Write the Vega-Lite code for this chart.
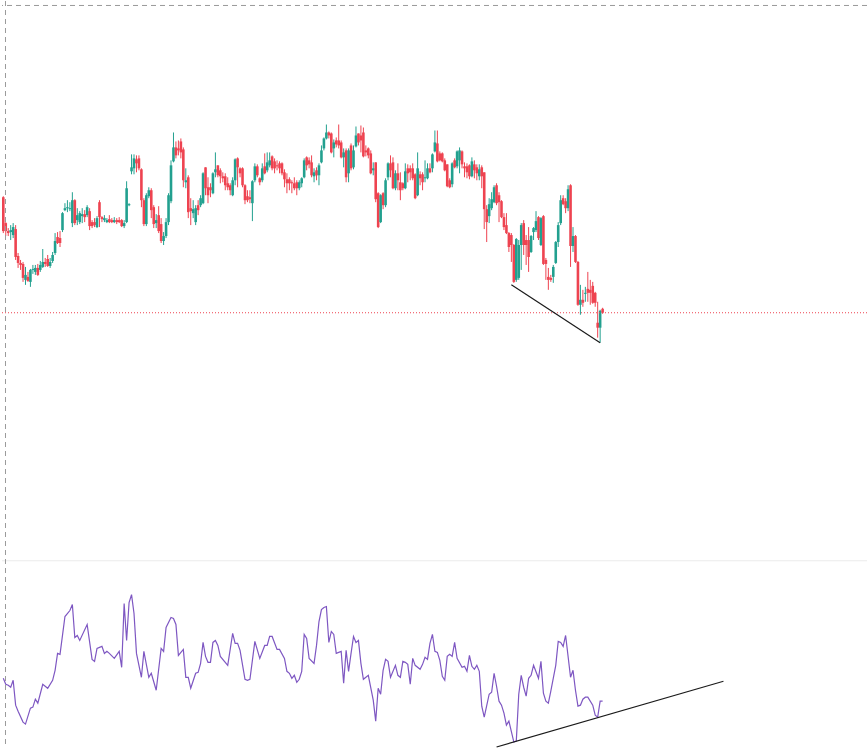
{
"$schema": "https://vega.github.io/schema/vega-lite/v6.json",
"width": 868, "height": 750,
"autosize": {"type": "fit", "contains": "padding"},
"padding": 0,
"background": "white",
"config": {"view": {"stroke": null}},
"datasets": {
"candles": [
{"t":0,"o":403,"c":369,"h":404,"l":367},{"t":1,"o":377,"c":369,"h":378,"l":364},{"t":2,"o":369,"c":367,"h":372,"l":364},{"t":3,"o":368,"c":370,"h":375,"l":360},{"t":4,"o":365,"c":373,"h":377,"l":362},{"t":5,"o":371,"c":343,"h":375,"l":340},{"t":6,"o":344,"c":337,"h":347,"l":332},{"t":7,"o":337,"c":335,"h":340,"l":330},{"t":8,"o":336,"c":322,"h":338,"l":318},{"t":9,"o":320,"c":325,"h":333,"l":315},
{"t":10,"o":323,"c":319,"h":328,"l":318},{"t":11,"o":318,"c":330,"h":331,"l":313},{"t":12,"o":330,"c":331,"h":335,"l":326},{"t":13,"o":328,"c":332,"h":335,"l":325},{"t":14,"o":332,"c":325,"h":336,"l":324},{"t":15,"o":330,"c":335,"h":339,"l":328},{"t":16,"o":333,"c":338,"h":351,"l":332},{"t":17,"o":338,"c":336,"h":342,"l":333},{"t":18,"o":341,"c":334,"h":345,"l":333},{"t":19,"o":334,"c":338,"h":342,"l":332},
{"t":20,"o":339,"c":345,"h":348,"l":337},{"t":21,"o":347,"c":359,"h":367,"l":345},{"t":22,"o":363,"c":357,"h":368,"l":356},{"t":23,"o":362,"c":357,"h":369,"l":353},{"t":24,"o":370,"c":387,"h":388,"l":368},{"t":25,"o":390,"c":392,"h":397,"l":389},{"t":26,"o":392,"c":393,"h":400,"l":388},{"t":27,"o":391,"c":392,"h":398,"l":389},{"t":28,"o":377,"c":400,"h":408,"l":373},{"t":29,"o":400,"c":377,"h":401,"l":375},
{"t":30,"o":380,"c":385,"h":392,"l":375},{"t":31,"o":378,"c":387,"h":389,"l":376},{"t":32,"o":384,"c":386,"h":392,"l":377},{"t":33,"o":386,"c":383,"h":390,"l":378},{"t":34,"o":385,"c":393,"h":395,"l":383},{"t":35,"o":389,"c":374,"h":392,"l":370},{"t":36,"o":378,"c":374,"h":380,"l":372},{"t":37,"o":378,"c":375,"h":382,"l":373},{"t":38,"o":373,"c":382,"h":384,"l":372},{"t":39,"o":398,"c":383,"h":400,"l":373},
{"t":40,"o":383,"c":381,"h":384,"l":378},{"t":41,"o":380,"c":382,"h":385,"l":378},{"t":42,"o":378,"c":380,"h":382,"l":377},{"t":43,"o":381,"c":378,"h":385,"l":377},{"t":44,"o":380,"c":378,"h":382,"l":377},{"t":45,"o":378,"c":380,"h":383,"l":377},{"t":46,"o":380,"c":378,"h":382,"l":376},{"t":47,"o":380,"c":378,"h":383,"l":377},{"t":48,"o":380,"c":374,"h":381,"l":373},{"t":49,"o":374,"c":377,"h":380,"l":372},
{"t":50,"o":378,"c":412,"h":419,"l":377},{"t":51,"o":395,"c":396,"h":397,"l":394},{"t":52,"o":429,"c":433,"h":446,"l":426},{"t":53,"o":432,"c":442,"h":446,"l":426},{"t":54,"o":441,"c":437,"h":445,"l":428},{"t":55,"o":442,"c":432,"h":445,"l":430},{"t":56,"o":431,"c":400,"h":432,"l":393},{"t":57,"o":400,"c":376,"h":402,"l":374},{"t":58,"o":376,"c":405,"h":407,"l":374},{"t":59,"o":404,"c":410,"h":413,"l":402},
{"t":60,"o":410,"c":390,"h":412,"l":382},{"t":61,"o":393,"c":376,"h":395,"l":372},{"t":62,"o":377,"c":380,"h":386,"l":372},{"t":63,"o":385,"c":369,"h":394,"l":367},{"t":64,"o":376,"c":359,"h":382,"l":357},{"t":65,"o":359,"c":364,"h":368,"l":355},{"t":66,"o":364,"c":378,"h":382,"l":362},{"t":67,"o":378,"c":405,"h":407,"l":375},{"t":68,"o":399,"c":435,"h":440,"l":397},{"t":69,"o":439,"c":453,"h":468,"l":438},
{"t":70,"o":453,"c":445,"h":459,"l":442},{"t":71,"o":452,"c":450,"h":460,"l":445},{"t":72,"o":459,"c":448,"h":462,"l":442},{"t":73,"o":451,"c":420,"h":453,"l":413},{"t":74,"o":418,"c":420,"h":432,"l":412},{"t":75,"o":423,"c":388,"h":425,"l":382},{"t":76,"o":392,"c":389,"h":402,"l":375},{"t":77,"o":387,"c":391,"h":400,"l":382},{"t":78,"o":378,"c":392,"h":395,"l":375},{"t":79,"o":395,"c":390,"h":400,"l":385},
{"t":80,"o":395,"c":402,"h":405,"l":393},{"t":81,"o":397,"c":427,"h":428,"l":396},{"t":82,"o":433,"c":412,"h":433,"l":405},{"t":83,"o":413,"c":405,"h":423,"l":397},{"t":84,"o":413,"c":410,"h":417,"l":403},{"t":85,"o":407,"c":427,"h":428,"l":406},{"t":86,"o":428,"c":431,"h":448,"l":423},{"t":87,"o":435,"c":425,"h":435,"l":423},{"t":88,"o":430,"c":424,"h":432,"l":417},{"t":89,"o":424,"c":422,"h":428,"l":418},
{"t":90,"o":424,"c":415,"h":427,"l":410},{"t":91,"o":417,"c":413,"h":423,"l":410},{"t":92,"o":415,"c":410,"h":417,"l":405},{"t":93,"o":405,"c":420,"h":423,"l":404},{"t":94,"o":420,"c":441,"h":442,"l":415},{"t":95,"o":442,"c":433,"h":443,"l":413},{"t":96,"o":432,"c":427,"h":433,"l":423},{"t":97,"o":432,"c":415,"h":433,"l":413},{"t":98,"o":415,"c":400,"h":416,"l":396},{"t":99,"o":404,"c":400,"h":410,"l":398},
{"t":100,"o":403,"c":401,"h":410,"l":397},{"t":101,"o":397,"c":419,"h":420,"l":379},{"t":102,"o":420,"c":434,"h":437,"l":418},{"t":103,"o":434,"c":425,"h":436,"l":423},{"t":104,"o":422,"c":418,"h":423,"l":415},{"t":105,"o":420,"c":432,"h":437,"l":418},{"t":106,"o":434,"c":427,"h":447,"l":426},{"t":107,"o":430,"c":438,"h":448,"l":428},{"t":108,"o":435,"c":440,"h":448,"l":433},{"t":109,"o":444,"c":432,"h":445,"l":430},
{"t":110,"o":439,"c":432,"h":442,"l":427},{"t":111,"o":435,"c":434,"h":440,"l":430},{"t":112,"o":437,"c":432,"h":439,"l":427},{"t":113,"o":437,"c":427,"h":438,"l":425},{"t":114,"o":428,"c":421,"h":431,"l":413},{"t":115,"o":421,"c":417,"h":427,"l":407},{"t":116,"o":421,"c":417,"h":423,"l":410},{"t":117,"o":418,"c":417,"h":420,"l":407},{"t":118,"o":417,"c":412,"h":423,"l":410},{"t":119,"o":418,"c":412,"h":420,"l":405},
{"t":120,"o":412,"c":418,"h":420,"l":410},{"t":121,"o":417,"c":422,"h":423,"l":413},{"t":122,"o":423,"c":440,"h":442,"l":422},{"t":123,"o":443,"c":435,"h":444,"l":430},{"t":124,"o":440,"c":436,"h":443,"l":432},{"t":125,"o":438,"c":425,"h":445,"l":423},{"t":126,"o":424,"c":428,"h":432,"l":418},{"t":127,"o":430,"c":425,"h":433,"l":420},{"t":128,"o":425,"c":435,"h":437,"l":415},{"t":129,"o":438,"c":450,"h":455,"l":437},
{"t":130,"o":452,"c":462,"h":463,"l":450},{"t":131,"o":462,"c":468,"h":476,"l":461},{"t":132,"o":468,"c":465,"h":469,"l":462},{"t":133,"o":467,"c":448,"h":468,"l":447},{"t":134,"o":452,"c":458,"h":461,"l":443},{"t":135,"o":460,"c":456,"h":463,"l":453},{"t":136,"o":460,"c":455,"h":476,"l":452},{"t":137,"o":458,"c":443,"h":460,"l":442},{"t":138,"o":443,"c":448,"h":452,"l":433},{"t":139,"o":450,"c":423,"h":452,"l":418},
{"t":140,"o":427,"c":450,"h":452,"l":418},{"t":141,"o":455,"c":432,"h":457,"l":430},{"t":142,"o":433,"c":450,"h":455,"l":431},{"t":143,"o":454,"c":465,"h":474,"l":453},{"t":144,"o":467,"c":458,"h":467,"l":455},{"t":145,"o":465,"c":460,"h":475,"l":448},{"t":146,"o":468,"c":444,"h":473,"l":443},{"t":147,"o":450,"c":448,"h":455,"l":444},{"t":148,"o":452,"c":445,"h":453,"l":442},{"t":149,"o":447,"c":427,"h":450,"l":426},
{"t":150,"o":430,"c":432,"h":438,"l":425},{"t":151,"o":438,"c":401,"h":438,"l":398},{"t":152,"o":407,"c":373,"h":408,"l":372},{"t":153,"o":378,"c":405,"h":406,"l":377},{"t":154,"o":407,"c":395,"h":408,"l":391},{"t":155,"o":395,"c":420,"h":422,"l":393},{"t":156,"o":423,"c":437,"h":438,"l":420},{"t":157,"o":437,"c":430,"h":445,"l":423},{"t":158,"o":438,"c":412,"h":443,"l":411},{"t":159,"o":412,"c":427,"h":430,"l":410},
{"t":160,"o":427,"c":420,"h":437,"l":410},{"t":161,"o":418,"c":410,"h":428,"l":400},{"t":162,"o":417,"c":412,"h":418,"l":410},{"t":163,"o":412,"c":429,"h":437,"l":411},{"t":164,"o":432,"c":427,"h":436,"l":418},{"t":165,"o":432,"c":428,"h":435,"l":420},{"t":166,"o":432,"c":422,"h":437,"l":420},{"t":167,"o":426,"c":402,"h":427,"l":401},{"t":168,"o":405,"c":432,"h":448,"l":404},{"t":169,"o":426,"c":422,"h":429,"l":415},
{"t":170,"o":426,"c":418,"h":428,"l":410},{"t":171,"o":422,"c":423,"h":440,"l":418},{"t":172,"o":422,"c":432,"h":437,"l":421},{"t":173,"o":432,"c":428,"h":437,"l":427},{"t":174,"o":432,"c":446,"h":447,"l":428},{"t":175,"o":449,"c":458,"h":470,"l":448},{"t":176,"o":457,"c":439,"h":470,"l":438},{"t":177,"o":447,"c":440,"h":449,"l":439},{"t":178,"o":447,"c":439,"h":448,"l":438},{"t":179,"o":440,"c":430,"h":442,"l":429},
{"t":180,"o":436,"c":414,"h":436,"l":413},{"t":181,"o":420,"c":413,"h":422,"l":412},{"t":182,"o":416,"c":437,"h":438,"l":413},{"t":183,"o":440,"c":433,"h":442,"l":432},{"t":184,"o":434,"c":449,"h":450,"l":432},{"t":185,"o":440,"c":450,"h":453,"l":427},{"t":186,"o":449,"c":436,"h":450,"l":432},{"t":187,"o":434,"c":432,"h":438,"l":423},{"t":188,"o":434,"c":428,"h":437,"l":422},{"t":189,"o":435,"c":424,"h":436,"l":421},
{"t":190,"o":424,"c":439,"h":443,"l":423},{"t":191,"o":436,"c":430,"h":440,"l":422},{"t":192,"o":433,"c":427,"h":436,"l":420},{"t":193,"o":424,"c":431,"h":436,"l":420},{"t":194,"o":433,"c":424,"h":435,"l":412},{"t":195,"o":428,"c":391,"h":428,"l":371},{"t":196,"o":391,"c":378,"h":395,"l":358},{"t":197,"o":384,"c":396,"h":402,"l":377},{"t":198,"o":392,"c":401,"h":408,"l":390},{"t":199,"o":398,"c":413,"h":415,"l":397},
{"t":200,"o":415,"c":397,"h":417,"l":395},{"t":201,"o":405,"c":398,"h":408,"l":378},{"t":202,"o":399,"c":383,"h":400,"l":382},{"t":203,"o":383,"c":373,"h":387,"l":370},{"t":204,"o":375,"c":367,"h":387,"l":366},{"t":205,"o":367,"c":353,"h":368,"l":348},{"t":206,"o":365,"c":355,"h":367,"l":338},{"t":207,"o":355,"c":318,"h":356,"l":317},{"t":208,"o":320,"c":361,"h":362,"l":318},{"t":209,"o":322,"c":355,"h":360,"l":320},
{"t":210,"o":355,"c":375,"h":377,"l":330},{"t":211,"o":377,"c":355,"h":380,"l":345},{"t":212,"o":360,"c":355,"h":365,"l":335},{"t":213,"o":360,"c":343,"h":373,"l":328},{"t":214,"o":348,"c":364,"h":365,"l":347},{"t":215,"o":368,"c":372,"h":373,"l":360},{"t":216,"o":370,"c":379,"h":389,"l":368},{"t":217,"o":383,"c":362,"h":384,"l":360},{"t":218,"o":355,"c":382,"h":383,"l":354},{"t":219,"o":384,"c":336,"h":385,"l":335},
{"t":220,"o":340,"c":336,"h":342,"l":320},{"t":221,"o":323,"c":320,"h":332,"l":310},{"t":222,"o":322,"c":320,"h":325,"l":318},{"t":223,"o":323,"c":333,"h":335,"l":317},{"t":224,"o":337,"c":358,"h":359,"l":336},{"t":225,"o":358,"c":375,"h":378,"l":353},{"t":226,"o":377,"c":400,"h":405,"l":375},{"t":227,"o":402,"c":396,"h":405,"l":395},{"t":228,"o":399,"c":392,"h":402,"l":387},{"t":229,"o":392,"c":411,"h":415,"l":389},
{"t":230,"o":415,"c":354,"h":416,"l":333},{"t":231,"o":354,"c":364,"h":373,"l":348},{"t":232,"o":364,"c":338,"h":365,"l":337},{"t":233,"o":338,"c":295,"h":339,"l":294},{"t":234,"o":295,"c":300,"h":315,"l":285},{"t":235,"o":300,"c":297,"h":310,"l":293},{"t":236,"o":306,"c":307,"h":313,"l":298},{"t":237,"o":311,"c":307,"h":328,"l":298},{"t":238,"o":310,"c":307,"h":320,"l":295},{"t":239,"o":314,"c":297,"h":318,"l":296},
{"t":240,"o":307,"c":297,"h":308,"l":293},{"t":241,"o":277,"c":272,"h":298,"l":262},{"t":242,"o":272,"c":289,"h":290,"l":257},{"t":243,"o":291,"c":287,"h":292,"l":286}
],
"rsi": [
{"t":0,"v":48},{"t":1,"v":45.6},{"t":2,"v":45.2},{"t":3,"v":44.4},{"t":4,"v":47.2},{"t":5,"v":37.2},{"t":6,"v":34.8},{"t":8,"v":30.4},{"t":9,"v":29.6},{"t":11,"v":36},{"t":12,"v":36.4},{"t":13,"v":39.6},{"t":14,"v":38},{"t":16,"v":45.6},{"t":18,"v":44},{"t":20,"v":47.2},{"t":21,"v":51.2},{"t":22,"v":58},{"t":23,"v":57.6},{"t":25,"v":72.8},{"t":27,"v":75.2},{"t":28,"v":77.6},{"t":29,"v":64.4},{"t":30,"v":65.2},{"t":31,"v":63.2},{"t":34,"v":69.6},{"t":36,"v":55.6},{"t":37,"v":54.8},{"t":38,"v":60},{"t":40,"v":60.8},{"t":41,"v":58},{"t":42,"v":58.8},{"t":43,"v":58},{"t":45,"v":56},{"t":47,"v":58.8},{"t":48,"v":52.4},{"t":49,"v":78},{"t":50,"v":63.2},{"t":51,"v":78.4},{"t":52,"v":81.6},{"t":53,"v":74},{"t":54,"v":58},{"t":56,"v":48.4},{"t":57,"v":58.8},{"t":59,"v":48.4},{"t":60,"v":50},{"t":62,"v":43.2},{"t":64,"v":60},{"t":65,"v":58.8},{"t":66,"v":68.4},{"t":68,"v":72.4},{"t":69,"v":72},{"t":70,"v":69.6},{"t":71,"v":57.2},{"t":73,"v":59.6},{"t":74,"v":48.4},{"t":75,"v":48.4},{"t":76,"v":44},{"t":78,"v":50},{"t":79,"v":50.4},{"t":80,"v":54},{"t":81,"v":62.4},{"t":82,"v":56.8},{"t":83,"v":54.4},{"t":84,"v":54.4},{"t":85,"v":62.4},{"t":86,"v":63.2},{"t":87,"v":61.2},{"t":88,"v":56.8},{"t":91,"v":53.2},{"t":93,"v":66},{"t":94,"v":62},{"t":95,"v":62},{"t":96,"v":59.2},{"t":98,"v":47.6},{"t":99,"v":47.2},{"t":100,"v":47.6},{"t":102,"v":62.8},{"t":104,"v":56},{"t":106,"v":61.2},{"t":107,"v":61.2},{"t":108,"v":64.8},{"t":109,"v":64.8},{"t":111,"v":59.6},{"t":112,"v":59.6},{"t":114,"v":56},{"t":115,"v":50.8},{"t":116,"v":50},{"t":117,"v":48},{"t":118,"v":49.2},{"t":119,"v":46.4},{"t":120,"v":47.6},{"t":121,"v":50.8},
{"t":122,"v":65.6},{"t":123,"v":64},{"t":124,"v":56},{"t":126,"v":54},{"t":127,"v":61.2},{"t":128,"v":70.8},{"t":129,"v":75.6},{"t":130,"v":76.4},{"t":131,"v":76.8},{"t":132,"v":62.4},{"t":133,"v":66.8},{"t":134,"v":65.6},{"t":135,"v":58},{"t":137,"v":58.8},{"t":138,"v":46},{"t":139,"v":59.2},{"t":140,"v":50.8},{"t":141,"v":58},{"t":142,"v":64.8},{"t":143,"v":62.4},{"t":144,"v":63.2},{"t":145,"v":54},{"t":146,"v":47.6},{"t":148,"v":49.2},{"t":150,"v":39.2},{"t":151,"v":30.8},{"t":152,"v":44},{"t":153,"v":41.6},{"t":154,"v":51.2},{"t":155,"v":55.6},{"t":156,"v":54.8},{"t":157,"v":48.4},{"t":159,"v":53.2},{"t":160,"v":49.2},{"t":161,"v":48.4},{"t":162,"v":54.8},{"t":163,"v":54.4},{"t":164,"v":53.6},{"t":165,"v":45.6},{"t":166,"v":56},{"t":167,"v":53.2},{"t":169,"v":51.6},{"t":170,"v":53.6},{"t":171,"v":56.4},{"t":172,"v":55.6},{"t":173,"v":62},{"t":174,"v":65.6},{"t":175,"v":58.8},{"t":176,"v":58.4},{"t":177,"v":55.2},{"t":178,"v":48.8},{"t":179,"v":47.2},{"t":180,"v":56.8},{"t":181,"v":57.6},{"t":182,"v":56.8},{"t":183,"v":62.4},{"t":184,"v":56},{"t":186,"v":52.4},{"t":187,"v":52.8},{"t":188,"v":50.8},{"t":189,"v":57.2},{"t":190,"v":52.8},{"t":191,"v":51.6},{"t":192,"v":53.2},{"t":193,"v":50.8},{"t":194,"v":36.8},{"t":195,"v":32.4},{"t":197,"v":41.6},{"t":198,"v":42.4},{"t":199,"v":50},{"t":200,"v":44.8},{"t":201,"v":38.8},{"t":202,"v":37.2},{"t":203,"v":34},{"t":204,"v":29.2},{"t":205,"v":30.8},{"t":207,"v":22.4},{"t":208,"v":22.8},{"t":209,"v":41.6},{"t":210,"v":49.2},{"t":211,"v":44.4},{"t":212,"v":40.8},{"t":213,"v":48},{"t":214,"v":49.2},{"t":215,"v":53.2},{"t":217,"v":48},{"t":218,"v":54.8},{"t":219,"v":42},{"t":220,"v":38.8},{"t":221,"v":38},{"t":222,"v":42.8},{"t":224,"v":53.2},{"t":225,"v":62.8},{"t":226,"v":62.4},{"t":227,"v":60.8},{"t":228,"v":65.2},{"t":230,"v":48.4},{"t":231,"v":51.2},{"t":232,"v":43.2},{"t":233,"v":36.8},{"t":234,"v":37.2},{"t":235,"v":39.6},{"t":236,"v":40.4},{"t":237,"v":40.4},{"t":239,"v":37.2},{"t":240,"v":33.2},{"t":241,"v":32.4},{"t":242,"v":38.8},{"t":243,"v":38.8}
],
"priceTrend": [{"t":206,"p":315},{"t":242,"p":257}],
"rsiTrend": [{"t":200,"v":20.4},{"t":292,"v":46.8}]
},
"layer": [
{
"data": {"values": [{}]},
"mark": {"type": "rule", "color": "#ebebeb", "strokeWidth": 1},
"encoding": {"y": {"datum": 38, "type": "quantitative", "scale": {"domain": [-150, 600], "nice": false, "zero": false}, "axis": null}}
},
{
"data": {"name": "candles"},
"mark": {"type": "rule", "strokeWidth": 1},
"encoding": {
"x": {"field": "t", "type": "quantitative", "scale": {"domain": [-0.525, 350.2], "nice": false, "zero": false}, "axis": null},
"y": {"field": "l", "type": "quantitative", "scale": {"domain": [-150, 600], "nice": false, "zero": false}, "axis": null},
"y2": {"field": "h"},
"color": {"condition": {"test": "datum.c >= datum.o", "value": "#22a08f"}, "value": "#ee4350"}
}
},
{
"data": {"name": "candles"},
"mark": {"type": "rule", "strokeWidth": 2.6},
"encoding": {
"x": {"field": "t", "type": "quantitative", "scale": {"domain": [-0.525, 350.2], "nice": false, "zero": false}, "axis": null},
"y": {"field": "o", "type": "quantitative", "scale": {"domain": [-150, 600], "nice": false, "zero": false}, "axis": null},
"y2": {"field": "c"},
"color": {"condition": {"test": "datum.c >= datum.o", "value": "#22a08f"}, "value": "#ee4350"}
}
},
{
"data": {"name": "candles"},
"transform": [{"filter": "datum.t == 243"}],
"mark": {"type": "rule", "color": "#ee4350", "strokeWidth": 1, "strokeDash": [1, 2]},
"encoding": {"y": {"field": "c", "type": "quantitative", "scale": {"domain": [-150, 600], "nice": false, "zero": false}, "axis": null}}
},
{
"data": {"name": "priceTrend"},
"mark": {"type": "line", "color": "#1a1a1a", "strokeWidth": 1.2},
"encoding": {
"x": {"field": "t", "type": "quantitative", "scale": {"domain": [-0.525, 350.2], "nice": false, "zero": false}, "axis": null},
"y": {"field": "p", "type": "quantitative", "scale": {"domain": [-150, 600], "nice": false, "zero": false}, "axis": null}
}
},
{
"data": {"name": "rsi"},
"mark": {"type": "line", "color": "#7e57c2", "strokeWidth": 1.2},
"encoding": {
"x": {"field": "t", "type": "quantitative", "scale": {"domain": [-0.525, 350.2], "nice": false, "zero": false}, "axis": null},
"y": {"field": "v", "type": "quantitative", "scale": {"domain": [20, 320], "nice": false, "zero": false}, "axis": null}
}
},
{
"data": {"name": "rsiTrend"},
"mark": {"type": "line", "color": "#1a1a1a", "strokeWidth": 1.2},
"encoding": {
"x": {"field": "t", "type": "quantitative", "scale": {"domain": [-0.525, 350.2], "nice": false, "zero": false}, "axis": null},
"y": {"field": "v", "type": "quantitative", "scale": {"domain": [20, 320], "nice": false, "zero": false}, "axis": null}
}
},
{
"data": {"values": [{}]},
"mark": {"type": "rule", "color": "#9a9a9a", "strokeWidth": 1, "strokeDash": [5, 4]},
"encoding": {"x": {"datum": 0.89, "type": "quantitative", "scale": {"domain": [-0.525, 350.2], "nice": false, "zero": false}, "axis": null}}
},
{
"data": {"values": [{}]},
"mark": {"type": "rule", "color": "#9a9a9a", "strokeWidth": 1, "strokeDash": [5, 4]},
"encoding": {"y": {"datum": 595.5, "type": "quantitative", "scale": {"domain": [-150, 600], "nice": false, "zero": false}, "axis": null}}
}
],
"resolve": {"scale": {"y": "independent"}}
}
